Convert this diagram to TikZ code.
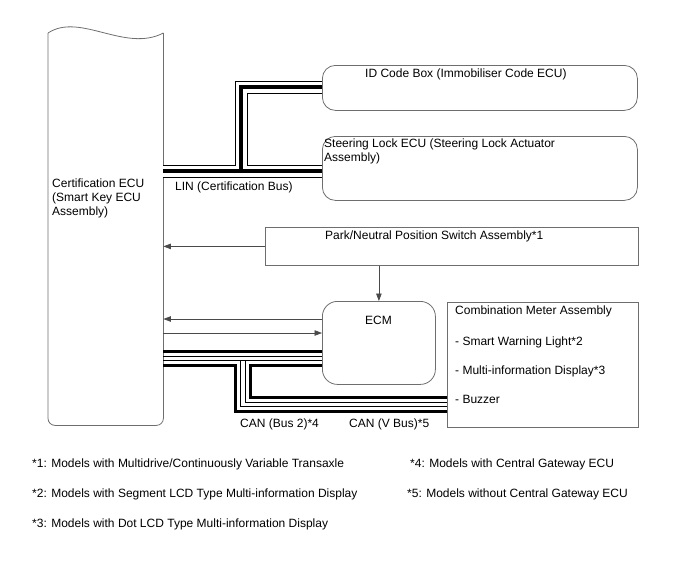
\documentclass[tikz,border=0pt]{standalone}
\usepackage{fontspec}
\setmainfont{Liberation Sans}
\usetikzlibrary{arrows.meta}
\definecolor{edgegray}{HTML}{6E6E6E}
\definecolor{arrowgray}{HTML}{4A4A4A}

\begin{document}
\begin{tikzpicture}[
 x=1pt,y=-1pt,
 every node/.style={font=\fontsize{12}{14}\selectfont},
 txt/.style={inner sep=0pt,align=left},
 box/.style={draw=edgegray,line width=0.8pt,inner sep=0pt,anchor=north west},
 rbox/.style={box,rounded corners=13pt},
 arr/.style={-{Triangle[length=7.5pt,width=5.5pt]},draw=arrowgray,line width=0.7pt},
 linout/.style={line width=13pt,line join=miter},
 linmid/.style={line width=11pt,white,line join=miter},
 lincore/.style={line width=3.5pt,line join=miter},
 canthick/.style={line width=3pt,line join=miter},
 canthin/.style={line width=1pt,line join=miter}
]
\useasboundingbox (0,0) rectangle (688,560);

% units
\node[inner sep=0pt,minimum width=115pt,minimum height=392pt,anchor=north west] (cert) at (48,33) {};
\draw[edgegray,line width=0.8pt] (cert.north west) .. controls (80,12) and (125,53) .. (cert.north east);
\draw[edgegray,line width=0.8pt,rounded corners=7pt] (cert.north east) -- (cert.south east)
 -- (cert.south west) -- (cert.north west);
\node[txt,anchor=west] (certtext) at (52,198) {Certification ECU\\(Smart Key ECU\\Assembly)};

\node[rbox,minimum width=315pt,minimum height=45pt] (idbox) at (322,65) {};
\node[txt,anchor=west] (idtext) at (365,74) {ID Code Box (Immobiliser Code ECU)};
\node[rbox,minimum width=315pt,minimum height=64pt] (steer) at (322,136) {};
\node[txt,anchor=west] (steertext) at (324,151) {Steering Lock ECU (Steering Lock Actuator\\Assembly)};
\node[box,minimum width=373pt,minimum height=38pt] (park) at (265,227) {};
\node[txt,anchor=west] (parktext) at (325,236) {Park/Neutral Position Switch Assembly*1};
\node[rbox,rounded corners=15pt,minimum width=113pt,minimum height=83pt] (ecm) at (322,301) {};
\node[txt] (ecmtext) at (378.5,320) {ECM};
\node[box,minimum width=191pt,minimum height=125pt] (meter) at (447,302) {};
\node[txt,anchor=west] (mtitle) at (455,311) {Combination Meter Assembly};
\node[txt,anchor=west] (mlight) at (455,342) {- Smart Warning Light*2};
\node[txt,anchor=west] (mdisp) at (455,371) {- Multi-information Display*3};
\node[txt,anchor=west] (mbuzz) at (455,399) {- Buzzer};

% LIN bus
\coordinate (linfork) at (241,171);
\foreach \lay in {linout,linmid,lincore} {
 \draw[\lay] (cert.east |- linfork) -- (steer.west |- linfork);
 \draw[\lay] (linfork) -- (241,87) -- (idbox.west |- 0,87);
}
\node[txt,anchor=west] (linlabel) at (175,187) {LIN (Certification Bus)};

% signal lines
\draw[arr] (park.west) -- (park.west -| cert.east);
\draw[arr] (park.south -| ecm.north) -- (ecm.north);
\draw[arr] (ecm.west |- 0,319) -- (cert.east |- 0,319);
\draw[arr] (cert.east |- 0,333) -- (ecm.west |- 0,333);

% CAN buses
\draw[canthick] (cert.east |- 0,351) -- (ecm.west |- 0,351);
\draw[canthin] (cert.east |- 0,356) -- (ecm.west |- 0,356);
\draw[canthin] (cert.east |- 0,360) -- (ecm.west |- 0,360);
\draw[canthin] (240,360) |- (meter.west |- 0,406);
\draw[canthin] (245,360) |- (meter.west |- 0,402);
\draw[canthick] (cert.east |- 0,365) -- (235,365) -- (235,411) -- (meter.west |- 0,411);
\draw[canthick] (ecm.west |- 0,365) -- (250,365) -- (250,397) -- (meter.west |- 0,397);
\node[txt,anchor=west] (canbus2) at (240,424) {CAN (Bus 2)*4};
\node[txt,anchor=west] (canvbus) at (349,424) {CAN (V Bus)*5};

% notes
\node[txt,anchor=west] (note1) at (32,464) {*1: Models with Multidrive/Continuously Variable Transaxle};
\node[txt,anchor=west] (note2) at (32,494) {*2: Models with Segment LCD Type Multi-information Display};
\node[txt,anchor=west] (note3) at (32,524) {*3: Models with Dot LCD Type Multi-information Display};
\node[txt,anchor=west] (note4) at (410,464) {*4: Models with Central Gateway ECU};
\node[txt,anchor=west] (note5) at (407,494) {*5: Models without Central Gateway ECU};
\end{tikzpicture}
\end{document}
